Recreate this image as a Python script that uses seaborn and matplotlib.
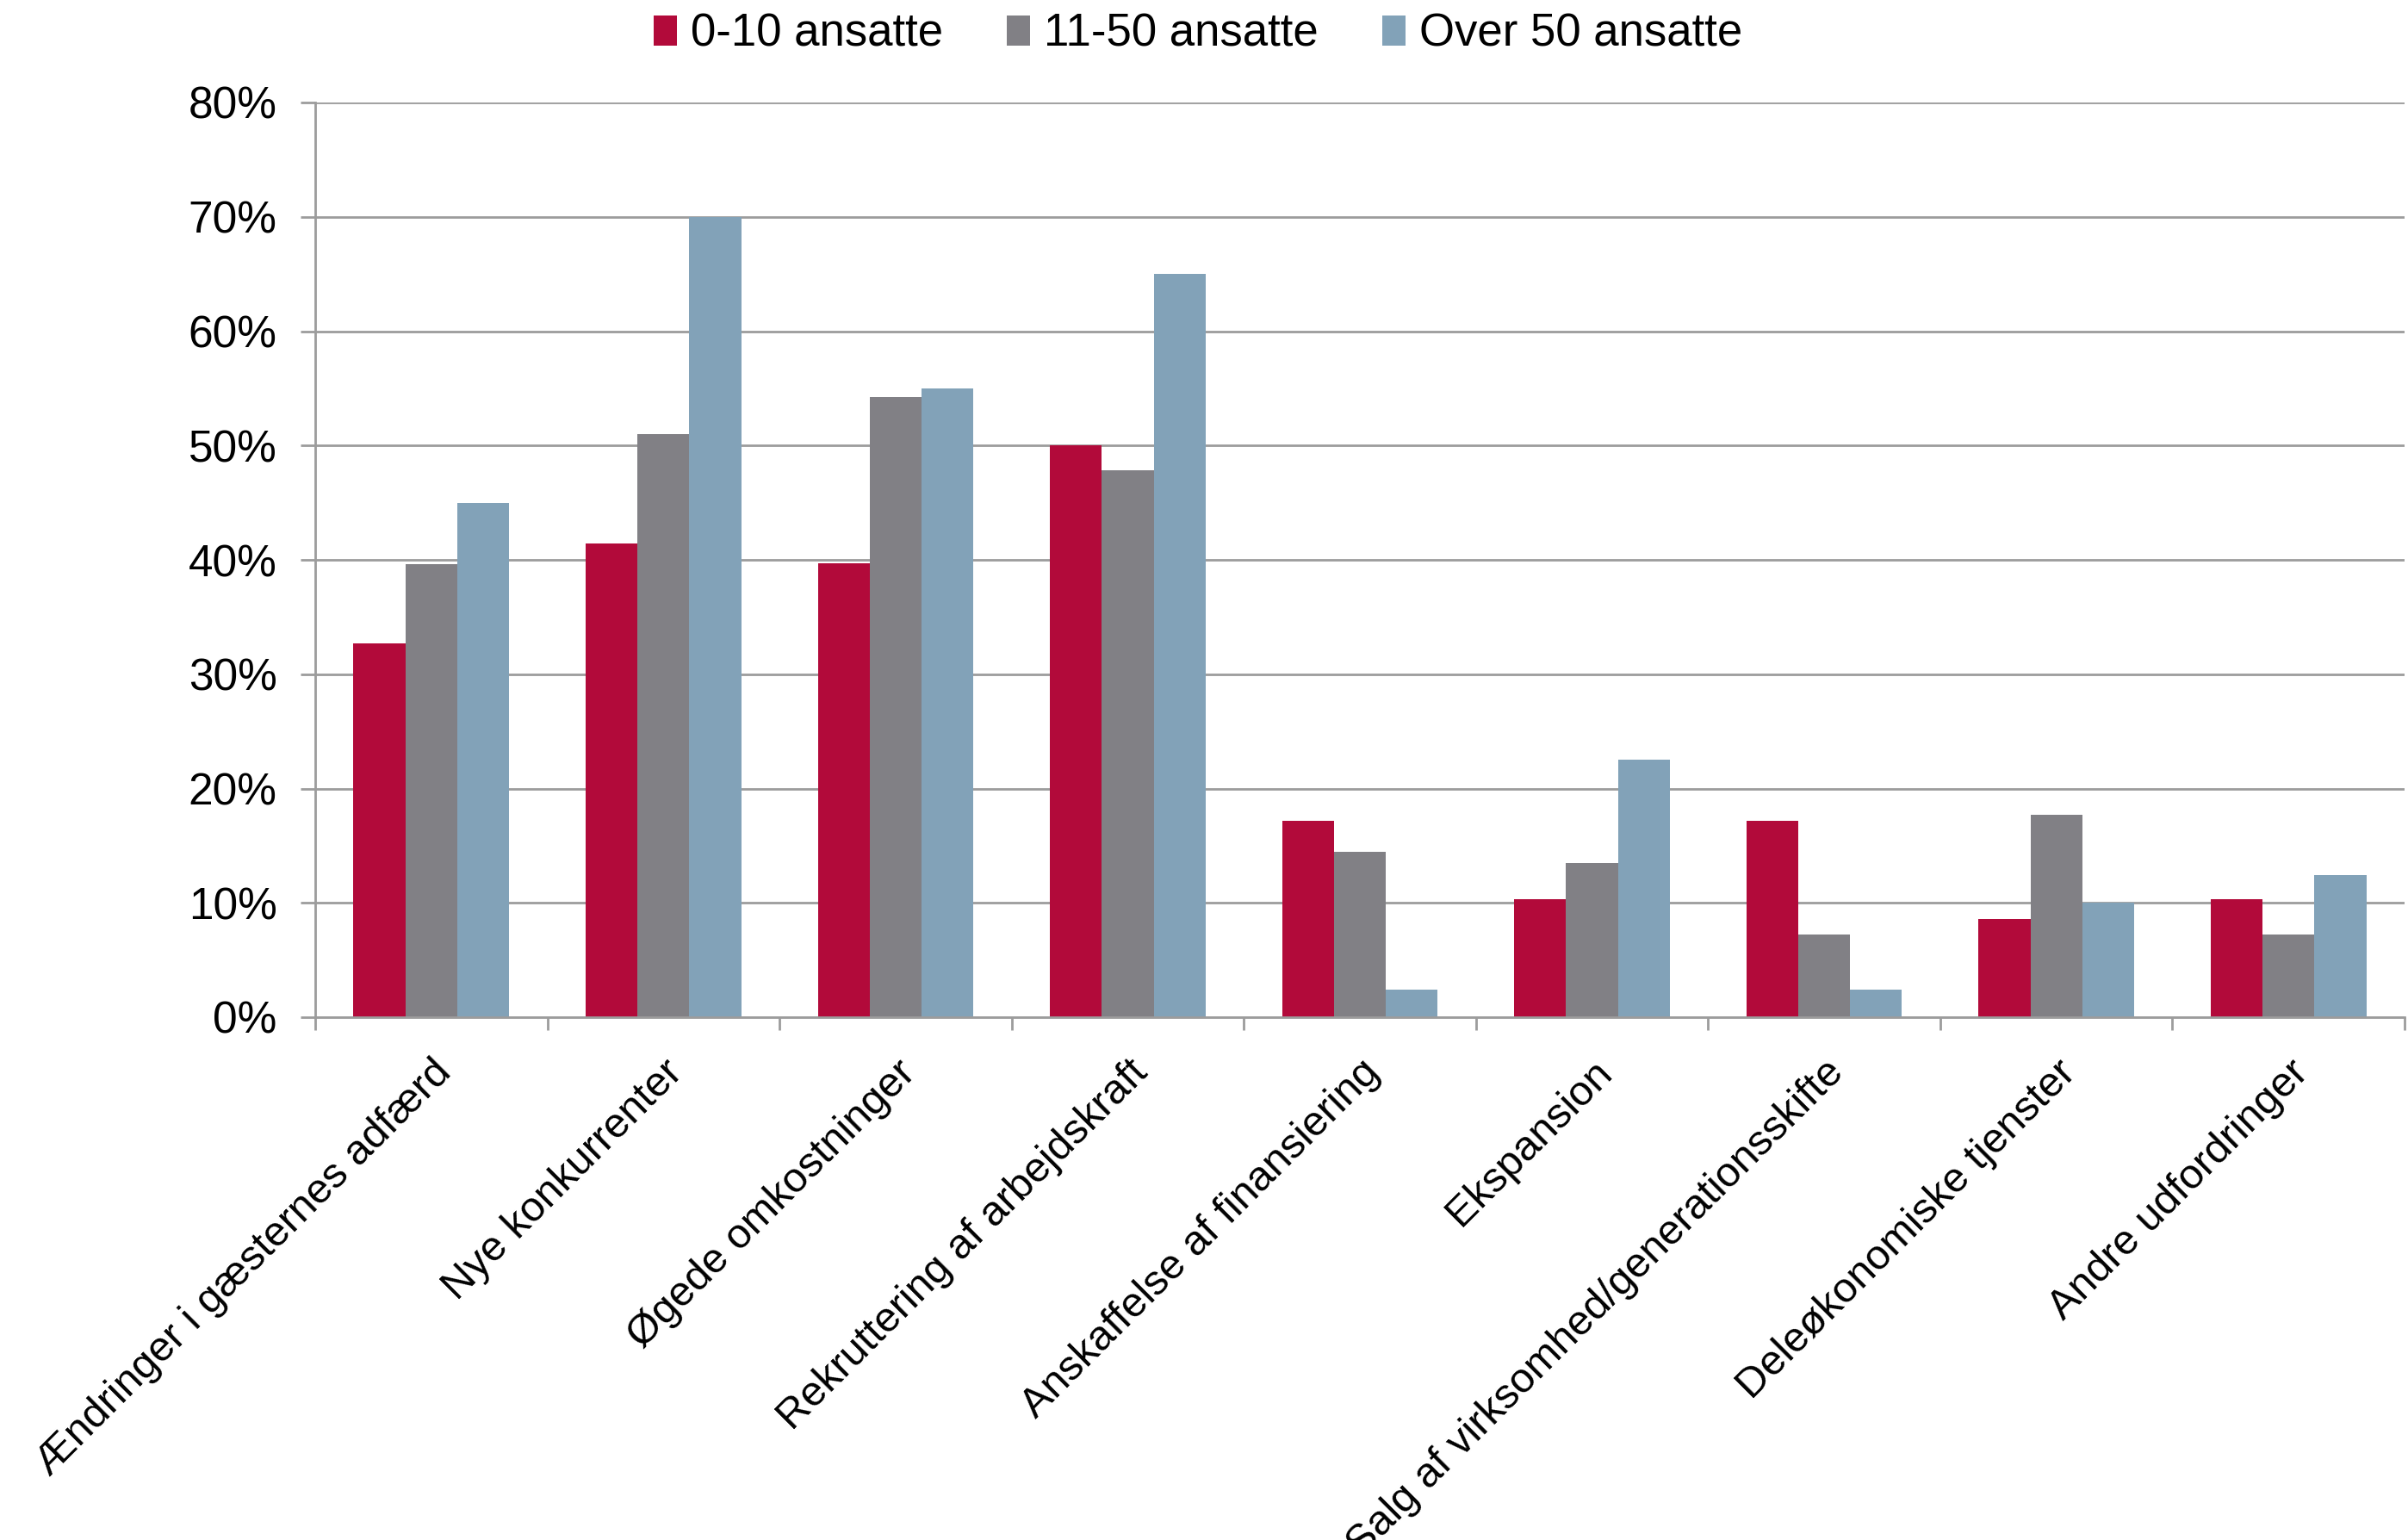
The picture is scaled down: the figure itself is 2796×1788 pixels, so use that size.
import numpy as np
import pandas as pd
import matplotlib
matplotlib.use("Agg")
import matplotlib.pyplot as plt
import seaborn as sns
from matplotlib.patches import Patch

# Survey shares (%) of challenges by company size
categories = [
    "Ændringer i gæsternes adfærd",
    "Nye konkurrenter",
    "Øgede omkostninger",
    "Rekruttering af arbejdskraft",
    "Anskaffelse af finansiering",
    "Ekspansion",
    "Salg af virksomhed/generationsskifte",
    "Deleøkonomiske tjenster",
    "Andre udfordringer",
]
groups = ["0-10 ansatte", "11-50 ansatte", "Over 50 ansatte"]
small = [32.7, 41.4, 39.7, 50.0, 17.2, 10.3, 17.2, 8.6, 10.3]
medium = [39.6, 51.0, 54.2, 47.8, 14.5, 13.5, 7.2, 17.7, 7.2]
large = [45.0, 70.0, 55.0, 65.0, 2.4, 22.5, 2.4, 10.0, 12.4]
y_ticks = [0, 10, 20, 30, 40, 50, 60, 70, 80]
colors = ["#B20A3A", "#818085", "#82A2B8"]

df = pd.DataFrame({
    "Kategori": categories * 3,
    "Gruppe": [g for g in groups for _ in categories],
    "Andel": small + medium + large,
})

sns.set_theme(style="white")
plt.rcParams["font.family"] = ["Liberation Sans", "DejaVu Sans"]
plt.rcParams["text.color"] = "black"

fig = plt.figure(figsize=(27.96, 17.88), dpi=100)
ax = fig.add_axes([366 / 2796, 1 - 1181 / 1788, (2792 - 366) / 2796, (1181 - 119) / 1788])

sns.barplot(data=df, x="Kategori", y="Andel", hue="Gruppe", order=categories,
            hue_order=groups, palette=colors, width=0.67, gap=0, linewidth=0,
            saturation=1, errorbar=None, ax=ax, legend=False)

ax.set_xlim(-0.5, len(categories) - 0.5)
ax.set_ylim(0, 80)
ax.set_yticks(y_ticks)
ax.set_yticklabels([f"{v}%" for v in y_ticks])
ax.yaxis.grid(True, color="#9C9C9C", linewidth=2)
ax.set_axisbelow(True)
ax.set_xlabel("")
ax.set_ylabel("")

for side in ["top", "right"]:
    ax.spines[side].set_visible(False)
for side in ["left", "bottom"]:
    ax.spines[side].set_color("#9C9C9C")
    ax.spines[side].set_linewidth(2)

ax.tick_params(axis="y", which="major", left=True, length=12, width=2,
               color="#9C9C9C", pad=20, labelsize=37, labelcolor="black")
# category boundaries as tick marks, labels on category centres
ax.set_xticks(np.arange(-0.5, len(categories), 1.0), minor=True)
ax.tick_params(axis="x", which="minor", bottom=True, length=11, width=2, color="#9C9C9C")
ax.tick_params(axis="x", which="major", bottom=False, length=0, pad=30)
ax.set_xticks(range(len(categories)))
ax.set_xticklabels(categories, rotation=45, ha="right", rotation_mode="anchor",
                   fontsize=35, color="black")

handles = [Patch(facecolor=c, edgecolor="none") for c in colors]
leg = fig.legend(handles, groups, loc="center", bbox_to_anchor=(0.4975, 1 - 40 / 1788),
                 ncol=3, frameon=False, fontsize=38, handlelength=0.52, handleheight=0.62,
                 handletextpad=0.3, columnspacing=1.4)
for t in leg.get_texts():
    t.set_color("black")

fig.savefig("out.png", dpi=100)
